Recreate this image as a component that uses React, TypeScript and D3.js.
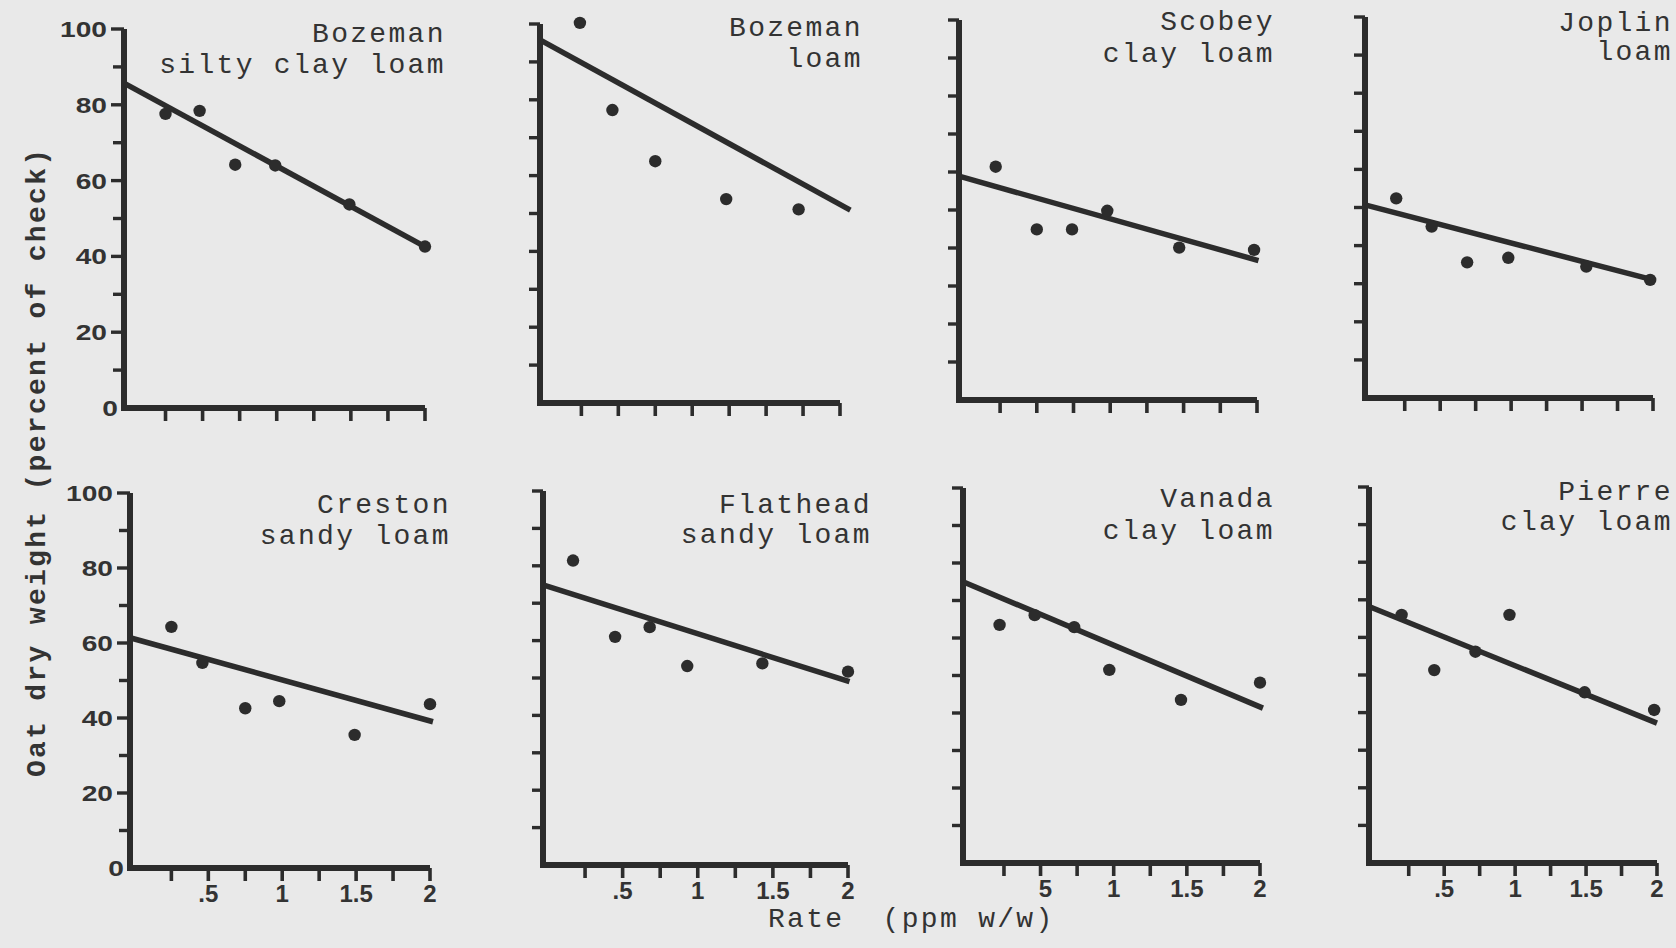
import React, { useEffect } from "react";
import * as d3 from "d3";

// ---------- data ----------
const soilNames = ["Bozeman", "Bozeman", "Scobey", "Joplin", "Creston", "Flathead", "Vanada", "Pierre"];
const soilTextures = ["silty clay loam", "loam", "clay loam", "loam", "sandy loam", "sandy loam", "clay loam", "clay loam"];

const ratesBozemanSCL = [0.25, 0.48, 0.72, 0.99, 1.49, 2.0];
const weightBozemanSCL = [77.6, 78.4, 64.2, 64.0, 53.7, 42.6];
const ratesBozemanL = [0.24, 0.46, 0.75, 1.23, 1.72];
const weightBozemanL = [100.3, 77.3, 63.8, 53.8, 51.1];
const ratesScobey = [0.22, 0.5, 0.74, 0.98, 1.47, 1.98];
const weightScobey = [61.4, 44.9, 44.9, 49.8, 40.1, 39.5];
const ratesJoplin = [0.19, 0.44, 0.69, 0.98, 1.53, 1.98];
const weightJoplin = [52.4, 45.0, 35.6, 36.8, 34.5, 31.0];
const ratesCreston = [0.25, 0.46, 0.75, 0.98, 1.49, 2.0];
const weightCreston = [64.3, 54.7, 42.6, 44.5, 35.5, 43.7];
const ratesFlathead = [0.17, 0.45, 0.68, 0.93, 1.43, 2.0];
const weightFlathead = [81.4, 61.0, 63.6, 53.2, 53.9, 51.7];
const ratesVanada = [0.22, 0.46, 0.73, 0.97, 1.46, 2.0];
const weightVanada = [63.5, 66.1, 62.9, 51.5, 43.5, 48.1];
const ratesPierre = [0.2, 0.43, 0.72, 0.96, 1.49, 1.98];
const weightPierre = [66.0, 51.3, 56.2, 66.0, 45.4, 40.7];

const panelRates = [ratesBozemanSCL, ratesBozemanL, ratesScobey, ratesJoplin, ratesCreston, ratesFlathead, ratesVanada, ratesPierre];
const panelWeights = [weightBozemanSCL, weightBozemanL, weightScobey, weightJoplin, weightCreston, weightFlathead, weightVanada, weightPierre];

// regression lines: value at the y axis, rate where the line ends, value there
const fitAtAxis = [85.7, 95.8, 58.9, 50.7, 61.4, 74.9, 75.0, 68.2];
const fitEndRate = [2.0, 2.07, 2.01, 2.0, 2.02, 2.01, 2.02, 2.0];
const fitAtEnd = [42.6, 50.9, 36.7, 31.0, 39.0, 49.0, 41.3, 37.2];

const yTickValues = [10, 20, 30, 40, 50, 60, 70, 80, 90, 100];
const yLabelValues = [0, 20, 40, 60, 80, 100];
const xTickValues = [0.25, 0.5, 0.75, 1, 1.25, 1.5, 1.75, 2];
const xLabelValues = [0.5, 1, 1.5, 2];
const xLabelTexts = [".5", "1", "1.5", "2"];
const xLabelTextsVanada = ["5", "1", "1.5", "2"];

const yTitle = "Oat dry weight (percent of check)";
const xTitle = "Rate  (ppm w/w)";

// ---------- layout ----------
const W = 1676;
const H = 948;
const X_AXIS = -0.03;
const FRAMES = [
  { left: 124, right: 425, top: 29, bottom: 408, tRight: 442, tY: 42, tGap: 31 },
  { left: 540, right: 840, top: 24, bottom: 403, tRight: 859, tY: 36, tGap: 31 },
  { left: 959, right: 1257, top: 20, bottom: 400, tRight: 1271, tY: 30, tGap: 31.5 },
  { left: 1365, right: 1653, top: 17, bottom: 398, tRight: 1669, tY: 30.5, tGap: 29.5 },
  { left: 130, right: 430, top: 493, bottom: 868, tRight: 447, tY: 513, tGap: 30.5 },
  { left: 543, right: 848, top: 491, bottom: 865, tRight: 868, tY: 513, tGap: 30 },
  { left: 963, right: 1260, top: 488, bottom: 863, tRight: 1271, tY: 507, tGap: 31.5 },
  { left: 1369, right: 1657, top: 487, bottom: 863, tRight: 1669, tY: 499.5, tGap: 30 },
];
const INK = "#2c2c2c";
const TEXT_INK = "#333333";
const BG = "#e9e9e9";
const MONO = "'Liberation Mono', 'DejaVu Sans Mono', monospace";
const SANS = "'Liberation Sans', Arial, sans-serif";
const MONO_SIZE = 28;
const MONO_LS = 2.3;

function Panel({ i }: { i: number }) {
  const f = FRAMES[i];
  const x = d3.scaleLinear().domain([X_AXIS, 2]).range([f.left, f.right]);
  const y = d3.scaleLinear().domain([0, 100]).range([f.bottom, f.top]);
  const showY = i === 0 || i === 4;
  const showX = i >= 4;
  const labels = soilNames[i] === "Vanada" ? xLabelTextsVanada : xLabelTexts;
  const fitLine = d3
    .line<[number, number]>()
    .x((d) => x(d[0]))
    .y((d) => y(d[1]))([
    [X_AXIS, fitAtAxis[i]],
    [fitEndRate[i], fitAtEnd[i]],
  ]);
  const rates = panelRates[i];
  const weights = panelWeights[i];
  const anchorX = f.tRight + MONO_LS + 1.5;
  return (
    <g>
      {/* y ticks */}
      {yTickValues.map((v) => (
        <line
          key={"yt" + v}
          x1={x(X_AXIS) - (showY && v % 20 === 0 ? 13 : 11)}
          x2={x(X_AXIS)}
          y1={y(v)}
          y2={y(v)}
          stroke={INK}
          strokeWidth={3.4}
        />
      ))}
      {/* x ticks */}
      {xTickValues.map((v) => (
        <line key={"xt" + v} x1={x(v)} x2={x(v)} y1={y(0)} y2={y(0) + 13} stroke={INK} strokeWidth={3.6} />
      ))}
      {/* axes */}
      <path
        d={`M${x(X_AXIS)},${y(100)}V${y(0)}H${x(2)}`}
        fill="none"
        stroke={INK}
        strokeWidth={6}
        strokeLinejoin="miter"
        strokeLinecap="butt"
      />
      {/* regression */}
      <path d={fitLine || ""} fill="none" stroke={INK} strokeWidth={5.5} strokeLinecap="butt" />
      {/* observations */}
      {rates.map((r, k) => (
        <circle key={"p" + k} cx={x(r)} cy={y(weights[k])} r={6.2} fill={INK} />
      ))}
      {/* y labels */}
      {showY &&
        yLabelValues.map((v) => (
          <text
            key={"yl" + v}
            transform={`translate(${x(X_AXIS) - (v === 0 ? 6 : 17)},${y(v)}) scale(1.28,1)`}
            dy="0.36em"
            textAnchor="end"
            fontFamily={SANS}
            fontWeight="bold"
            fontSize={22}
            fill={TEXT_INK}
          >
            {v}
          </text>
        ))}
      {/* x labels */}
      {showX &&
        xLabelValues.map((v, k) => (
          <text
            key={"xl" + v}
            x={x(v) + (labels[k] === "5" ? 5 : 0)}
            y={y(0) + 34}
            textAnchor="middle"
            fontFamily={SANS}
            fontWeight="bold"
            fontSize={24}
            fill={TEXT_INK}
          >
            {labels[k]}
          </text>
        ))}
      {/* title */}
      <text
        fontFamily={MONO}
        fontSize={MONO_SIZE}
        letterSpacing={MONO_LS}
        fill={TEXT_INK}
        textAnchor="end"
        style={{ whiteSpace: "pre" }}
      >
        <tspan x={anchorX} y={f.tY}>
          {soilNames[i]}
        </tspan>
        <tspan x={anchorX} y={f.tY + f.tGap}>
          {soilTextures[i]}
        </tspan>
      </text>
    </g>
  );
}

export default function App() {
  useEffect(() => {
    document.body.style.margin = "0";
    document.body.style.background = BG;
  }, []);
  return (
    <svg
      width={W}
      height={H}
      viewBox={`0 0 ${W} ${H}`}
      style={{ position: "absolute", left: 0, top: 0, display: "block" }}
    >
      <rect x={0} y={0} width={W} height={H} fill={BG} />
      {FRAMES.map((_, i) => (
        <Panel key={i} i={i} />
      ))}
      <text
        transform={`translate(45,${463 - MONO_LS / 2}) rotate(-90)`}
        textAnchor="middle"
        fontFamily={MONO}
        fontSize={MONO_SIZE}
        letterSpacing={MONO_LS}
        fontWeight="bold"
        fill={TEXT_INK}
      >
        {yTitle}
      </text>
      <text
        x={768}
        y={927}
        fontFamily={MONO}
        fontSize={MONO_SIZE}
        letterSpacing={MONO_LS}
        fill={TEXT_INK}
        style={{ whiteSpace: "pre" }}
      >
        {xTitle}
      </text>
    </svg>
  );
}
